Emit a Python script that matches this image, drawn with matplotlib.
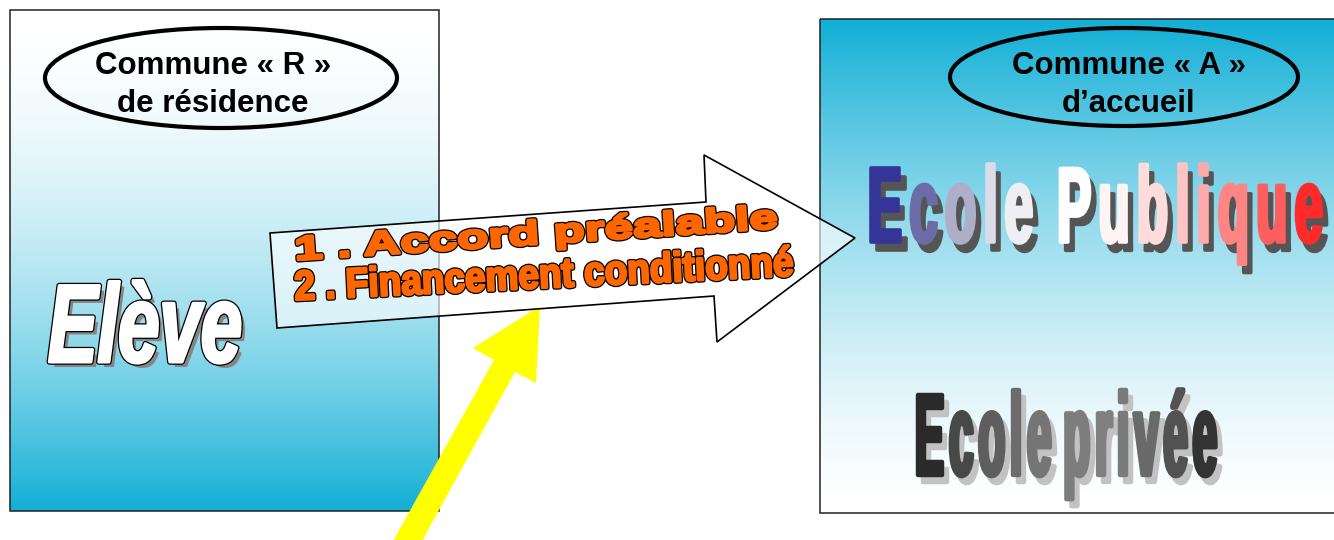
import numpy as np
import matplotlib
matplotlib.use("Agg")
import matplotlib.pyplot as plt
from matplotlib import patheffects as pe
from matplotlib.patches import Polygon, Rectangle, Ellipse
from matplotlib.transforms import Affine2D
from matplotlib.colors import to_rgb

## texts and letter colours

commune_r = ["Commune « R »", "de résidence"]
commune_a = ["Commune « A »", "d’accueil"]
eleve = "Elève"
accord = ["1 . Accord préalable", "2 . Financement conditionné"]
publique = "Ecole Publique"
publique_colors = ["#353597", "#6c6ca8", "#aeaec8", "#dcdce8", "#eeeef4",
                   "#ffffff", "#fff4f4", "#ffdcdc", "#ffc4c4", "#ffaaaa",
                   "#ff8585", "#ff5e5e", "#ff2a2a"]
privee = "Ecole privée"
privee_colors = ["#2a2a2a", "#484848", "#5e5e5e", "#6c6c6c", "#757575",
                 "#7d7d7d", "#808080", "#7a7a7a", "#6a6a6a", "#525252", "#333333"]

W, H = 1334, 540
FONT = "Liberation Sans"
cyan = np.array(to_rgb("#12afd6"))


class Ink(pe.AbstractPathEffect):
    """draws the glyph path rescaled (about its baseline origin) with its own fill/edge/offset"""
    def __init__(self, sx, sy, fill, edge=None, lw=0, offset=(0, 0)):
        super().__init__(offset)
        self.sx, self.sy = sx, sy
        self.fill = to_rgb(fill)
        self.edge = edge
        self.lw = lw

    def draw_path(self, renderer, gc, tpath, affine, rgbFace=None):
        gc0 = renderer.new_gc()
        gc0.copy_properties(gc)
        aff = Affine2D().scale(self.sx, self.sy) + affine + self._offset_transform(renderer)
        gc0.set_linewidth(self.lw)
        if self.lw:
            gc0.set_foreground(self.edge if self.edge else self.fill)
        renderer.draw_path(gc0, tpath, aff, self.fill)
        gc0.restore()


fig = plt.figure(figsize=(W / 100, H / 100), dpi=100)
ax = fig.add_axes([0, 0, 1, 1])
renderer = fig.canvas.get_renderer()

## boxes with vertical gradients

t = np.linspace(0, 1, 256)[:, None]
grad_l = 1 - (t ** 1.8) * (1 - cyan)
grad_r = 1 - ((1 - t) ** 1.5) * (1 - cyan)
ax.imshow(grad_l[:, None, :], extent=(10, 439, 511, 10), aspect="auto", zorder=0)
ax.imshow(grad_r[:, None, :], extent=(820, 1420, 513, 19), aspect="auto", zorder=0)
ax.add_patch(Rectangle((10, 10), 429, 501, fill=False, ec="#222222", lw=1.1, zorder=1))
ax.add_patch(Rectangle((820, 19), 600, 494, fill=False, ec="#222222", lw=1.1, zorder=1))

ax.set_xlim(0, W)
ax.set_ylim(H, 0)
ax.axis("off")

## ellipses

ax.add_patch(Ellipse((221, 78), 352, 100, fill=False, ec="black", lw=3, zorder=2))
ax.add_patch(Ellipse((1124, 77), 348, 98, fill=False, ec="black", lw=3, zorder=2))
for i, s in enumerate(commune_r):
    ax.text(213, 74 + 38 * i, s, ha="center", va="baseline", fontsize=22.5,
            fontweight="bold", family=FONT, zorder=3)
for i, s in enumerate(commune_a):
    ax.text(1129, 74 + 38 * i, s, ha="center", va="baseline", fontsize=22.5,
            fontweight="bold", family=FONT, zorder=3)


def squeezed(x, y, s, size, target, effects, angle=0, style="normal", z=6):
    # text of the visual size `size` whose width is forced to `target` pixels
    txt = ax.text(x, y, s, fontsize=size, fontweight="bold", style=style, family=FONT,
                  ha="left", va="baseline", rotation_mode="anchor", zorder=z)
    sx = target / txt.get_window_extent(renderer).width
    txt.set_rotation(angle)
    if sx < 1:
        txt.set_fontsize(size * sx)
        txt.set_path_effects(effects(1, 1 / sx))
    else:
        txt.set_path_effects(effects(sx, 1))
    return txt


def word(x, y, s, colors, size, target, gap, space, effects, z=6):
    # one text per letter, squeezed and tracked to fill `target` pixels
    txts = []
    for ch in s:
        if ch == " ":
            continue
        txts.append(ax.text(0, y, ch, fontsize=size, fontweight="bold", family=FONT,
                            ha="left", va="baseline", zorder=z))
    widths = [tt.get_window_extent(renderer).width for tt in txts]
    sx = (target - gap * (len(txts) - 2) - space) / sum(widths)
    i = 0
    for ch in s:
        if ch == " ":
            x += space - gap
            continue
        txts[i].set_x(x)
        txts[i].set_fontsize(size * sx)
        txts[i].set_path_effects(effects(1 / sx, colors[i]))
        x += widths[i] * sx + gap
        i += 1


## Elève

squeezed(48, 362, eleve, 80, 194,
         lambda sx, sy: [Ink(sx, sy, "#858585", offset=(3.6, -3.6)),
                         Ink(sx, sy, "white", "black", 4.0),
                         Ink(sx, sy, "white", "white", 2.2)],
         style="italic", z=3)

## yellow arrow

ax.add_patch(Polygon([(393, 541), (494, 360), (473, 348), (540, 306),
                      (536, 383), (515, 372), (422, 541)],
                     closed=True, fc="#ffff00", ec="none", zorder=4))

## main arrow

ax.add_patch(Polygon([(270, 233), (706, 202), (704, 155), (855, 238),
                      (717, 342), (714, 296), (277, 328)],
                     closed=True, fc=(1, 1, 1, 0.62), ec="black", lw=1.2, zorder=5))

orange = "#ff6600"
squeezed(295, 260, accord[0], 24, 485,
         lambda sx, sy: [Ink(sx, sy, orange, "black", 4.0), Ink(sx, sy, orange, orange, 2.2)],
         angle=3.8)
squeezed(295, 300, accord[1], 30, 500,
         lambda sx, sy: [Ink(sx, sy, orange, "black", 3.6), Ink(sx, sy, orange, orange, 1.8)],
         angle=2.8)

## Ecole Publique / Ecole privée

word(868, 242, publique, publique_colors, 77, 455, 7, 24,
     lambda sy, c: [Ink(1, sy, "#555555", "#555555", 2.6, offset=(3.8, -6)),
                    Ink(1, sy, c, c, 2.6)])
word(915, 475, privee, privee_colors, 84, 302, 5, 12,
     lambda sy, c: [Ink(1, sy, "#c2c2c2", "#c2c2c2", 3.2, offset=(3.6, -5)),
                    Ink(1, sy, c, c, 3.2)])

fig.savefig("out.png", dpi=100)
